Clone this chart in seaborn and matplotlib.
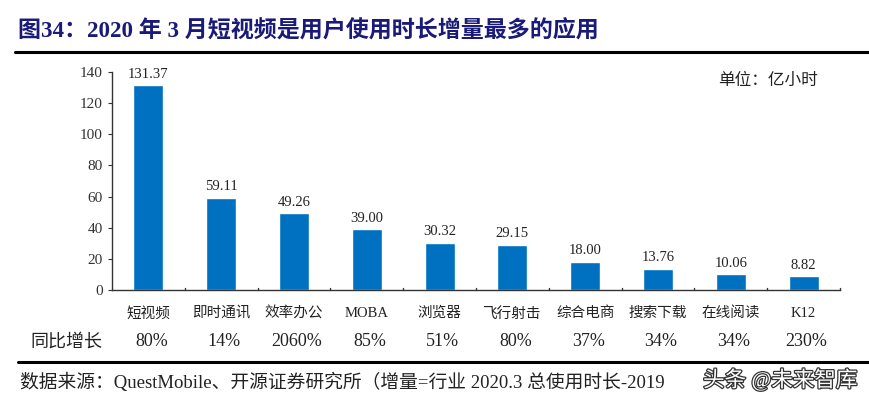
import pandas as pd
import matplotlib.pyplot as plt
import matplotlib.patheffects as pe
import seaborn as sns

# chart data
categories = ["短视频", "即时通讯", "效率办公", "MOBA", "浏览器",
              "飞行射击", "综合电商", "搜索下载", "在线阅读", "K12"]
hours = [131.37, 59.11, 49.26, 39.00, 30.32, 29.15, 18.00, 13.76, 10.06, 8.82]
growth = ["80%", "14%", "2060%", "85%", "51%", "80%", "37%", "34%", "34%", "230%"]

df = pd.DataFrame({"app": categories, "hours": hours})

sns.set_style("white")
fonts = ["Liberation Serif", "Noto Sans CJK SC", "DejaVu Sans"]
plt.rcParams["font.family"] = fonts

bar_color = "#0070C0"
navy = "#1A1A78"

fig = plt.figure(figsize=(8.69, 4.03), dpi=100)
ax = fig.add_axes([0.1289, 0.2804, 0.8377, 0.5409])

sns.barplot(data=df, x="app", y="hours", color=bar_color, width=0.41,
            saturation=1, ax=ax)

# value labels
for i, v in enumerate(hours):
    ax.text(i, v + 3, f"{v:.2f}", ha="center", va="bottom", fontsize=10.5,
            color="#222222")

ax.set_ylim(0, 140)
ax.set_xlim(-0.5, len(categories) - 0.5)
ax.set_yticks(range(0, 141, 20))
ax.set_xlabel("")
ax.set_ylabel("")
for s in ["top", "right"]:
    ax.spines[s].set_visible(False)
for s in ["left", "bottom"]:
    ax.spines[s].set_color("#333333")
    ax.spines[s].set_linewidth(1.0)
ax.tick_params(axis="y", direction="out", length=3, labelsize=11,
               colors="#333333", left=True)
ax.tick_params(axis="x", length=0, labelsize=10.5, pad=12, colors="#222222")

# category separator ticks on x axis
for k in range(1, len(categories) + 1):
    ax.plot([k - 0.5, k - 0.5], [0, 1.6], color="#333333", lw=1, clip_on=False)

ax.text(0.97, 0.96, "单位：亿小时", transform=ax.transAxes, ha="right",
        va="center", fontsize=12, color="#222222")

# growth row
fig.text(30 / 869, 1 - 342 / 403, "同比增长", ha="left", va="center",
         fontsize=13, color="#222222")
for i, g in enumerate(growth):
    x_disp = ax.transData.transform((i, 0))[0]
    fig.text((x_disp + 3) / 869, 1 - 342 / 403, g, ha="center", va="center",
             fontsize=13, color="#222222")

# title and rules
fig.text(18 / 869, 1 - 31 / 403,
         "图34：2020 年 3 月短视频是用户使用时长增量最多的应用",
         ha="left", va="center", fontsize=16.6, fontweight="bold", color=navy)
fig.add_artist(plt.Line2D([15 / 869, 1.0], [1 - 52 / 403, 1 - 52 / 403],
                          color="black", lw=2.2))
fig.add_artist(plt.Line2D([18 / 869, 1.0], [1 - 362 / 403, 1 - 362 / 403],
                          color="black", lw=2.2))

fig.text(20 / 869, 1 - 382 / 403,
         "数据来源：QuestMobile、开源证券研究所（增量=行业 2020.3 总使用时长-2019",
         ha="left", va="center", fontsize=13.5, color="#222222")
wm = fig.text(703 / 869, 1 - 380 / 403, "头条 @未来智库", ha="left",
              va="center", fontsize=15.5, color="white", family=fonts)
wm.set_path_effects([pe.withStroke(linewidth=1.8, foreground="#333333")])

fig.savefig("out.png", dpi=100)
